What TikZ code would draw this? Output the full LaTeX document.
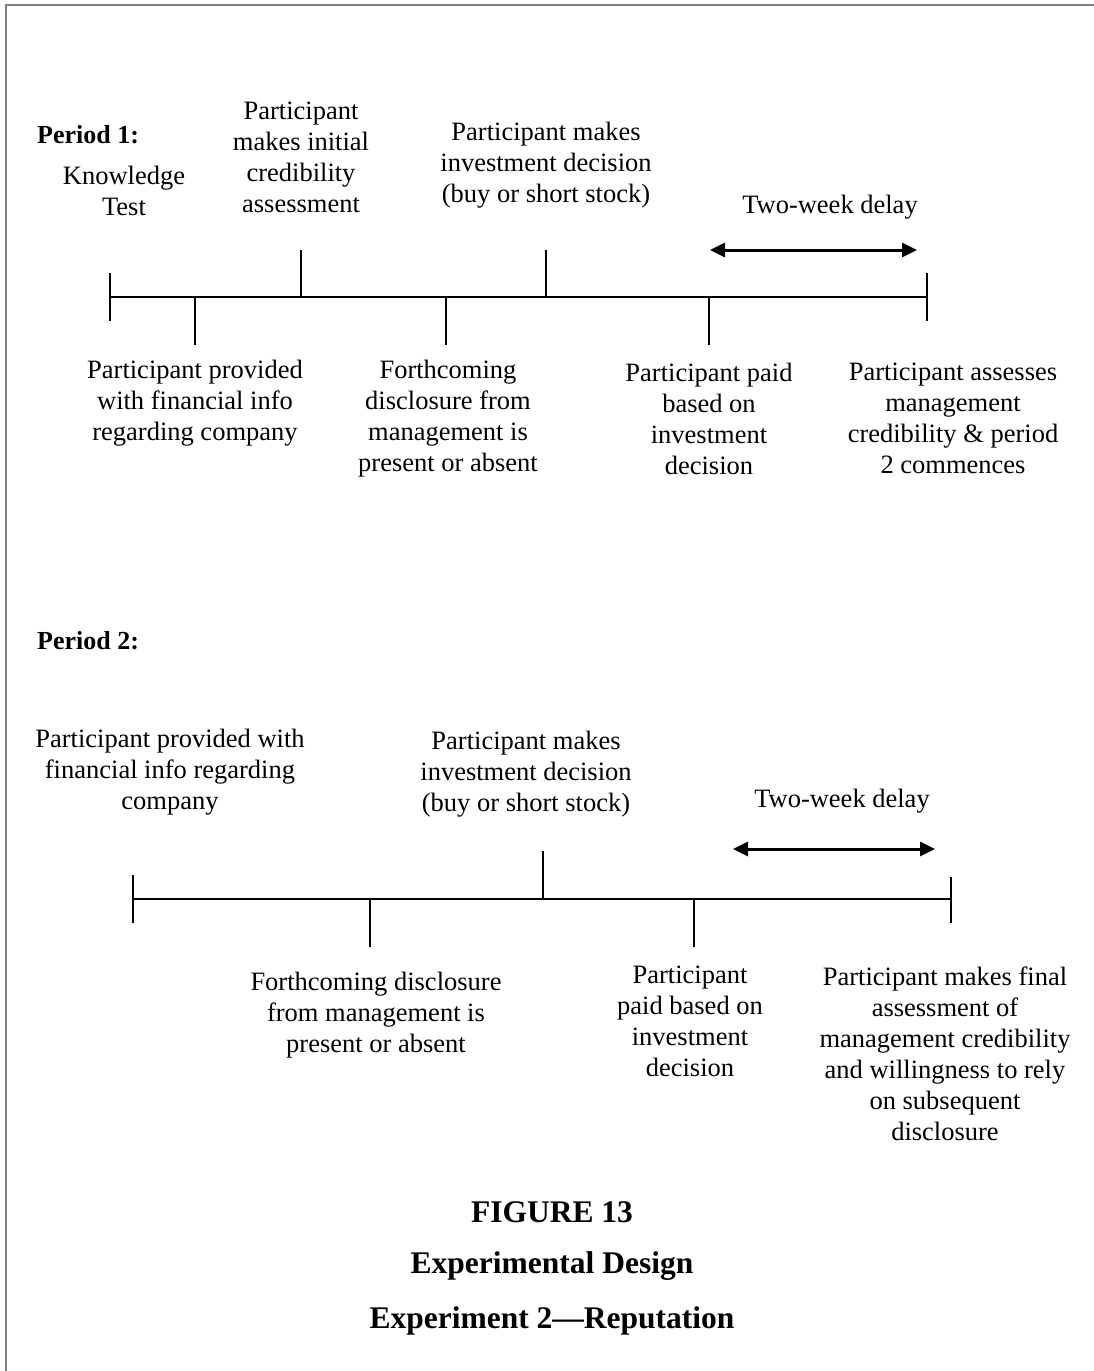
\documentclass[tikz,border=0pt]{standalone}
\usepackage{fontspec}
\setmainfont{Liberation Serif}
\usetikzlibrary{arrows.meta}
\tikzset{
  lbl/.style={align=center, inner sep=0pt, font=\fontsize{26.5}{31}\selectfont},
  hdr/.style={anchor=west, inner sep=0pt, font=\fontsize{26}{30}\selectfont\bfseries},
  foot/.style={inner sep=0pt, font=\fontsize{31.5}{36}\selectfont\bfseries},
  tl/.style={line width=2pt, black},
  delay/.style={line width=3pt, {Triangle[length=15pt,width=14pt]}-{Triangle[length=15pt,width=14pt]}},
  frame/.style={line width=2pt, color=black!50}
}
\begin{document}
\begin{tikzpicture}[x=1pt,y=-1pt]
\useasboundingbox (0,0) rectangle (1094,1371);
\draw[frame] (6,1371) -- (6,5) -- (1094,5);

% ---------- Period 1 ----------
\node[hdr] (p1) at (37,135) {Period 1:};
\coordinate (a0) at (110,297);
\coordinate (a1) at (195,297);
\coordinate (a2) at (301,297);
\coordinate (a3) at (446,297);
\coordinate (a4) at (546,297);
\coordinate (a5) at (709,297);
\coordinate (a6) at (927,297);
\draw[tl] (a0) -- (a6);
\draw[tl] ([yshift=24pt]a0) -- ([yshift=-24pt]a0);
\draw[tl] ([yshift=24pt]a6) -- ([yshift=-24pt]a6);
\draw[tl] (a1) -- ([yshift=-48pt]a1);
\draw[tl] (a2) -- ([yshift=47pt]a2);
\draw[tl] (a3) -- ([yshift=-48pt]a3);
\draw[tl] (a4) -- ([yshift=47pt]a4);
\draw[tl] (a5) -- ([yshift=-48pt]a5);
\coordinate (d1s) at (710,250);
\coordinate (d1e) at (917,250);
\draw[delay] (d1s) -- (d1e);

\node[lbl] (k) at (124,190.5) {Knowledge\\Test};
\node[lbl] (ic) at (301,157) {Participant\\makes initial\\credibility\\assessment};
\node[lbl] (inv1) at (546,165) {Participant makes\\investment decision\\(buy or short stock)};
\node[lbl] (tw1) at (830,207) {Two-week delay};
\node[lbl] (fin1) at (195,403) {Participant provided\\with financial info\\regarding company};
\node[lbl] (fd1) at (448,418.5) {Forthcoming\\disclosure from\\management is\\present or absent};
\node[lbl] (pd1) at (709,418.5) {Participant paid\\based on\\investment\\decision};
\node[lbl] (as1) at (953,418.5) {Participant assesses\\management\\credibility \& period\\2 commences};

% ---------- Period 2 ----------
\node[hdr] (p2) at (37,641) {Period 2:};
\coordinate (b0) at (133,899);
\coordinate (b1) at (370,899);
\coordinate (b2) at (543,899);
\coordinate (b3) at (694,899);
\coordinate (b4) at (951,899);
\draw[tl] (b0) -- (b4);
\draw[tl] ([yshift=24pt]b0) -- ([yshift=-24pt]b0);
\draw[tl] ([yshift=22pt]b4) -- ([yshift=-24pt]b4);
\draw[tl] (b1) -- ([yshift=-48pt]b1);
\draw[tl] (b2) -- ([yshift=48pt]b2);
\draw[tl] (b3) -- ([yshift=-48pt]b3);
\coordinate (d2s) at (733,849);
\coordinate (d2e) at (935,849);
\draw[delay] (d2s) -- (d2e);

\node[lbl] (fin2) at (170,772) {Participant provided with\\financial info regarding\\company};
\node[lbl] (inv2) at (526,774) {Participant makes\\investment decision\\(buy or short stock)};
\node[lbl] (tw2) at (842,801) {Two-week delay};
\node[lbl] (fd2) at (376,1015) {Forthcoming disclosure\\from management is\\present or absent};
\node[lbl] (pd2) at (690,1021) {Participant\\paid based on\\investment\\decision};
\node[lbl] (as2) at (945,1053.5) {Participant makes final\\assessment of\\management credibility\\and willingness to rely\\on subsequent\\disclosure};

% ---------- Caption ----------
\node[foot] (f1) at (552,1212) {FIGURE 13};
\node[foot] (f2) at (552,1266) {Experimental Design};
\node[foot] (f3) at (552,1321) {Experiment 2---Reputation};
\end{tikzpicture}
\end{document}
